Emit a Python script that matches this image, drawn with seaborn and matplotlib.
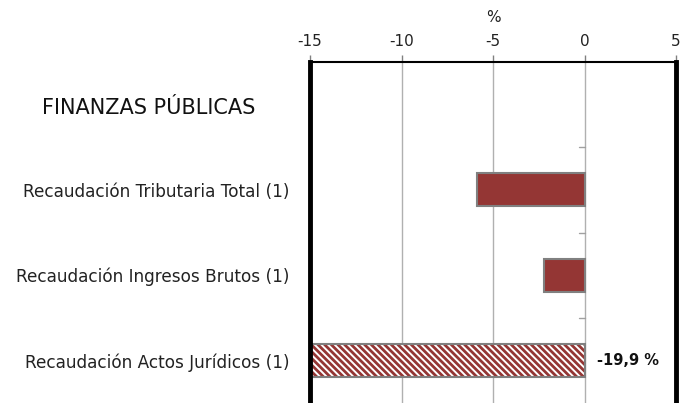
import matplotlib
matplotlib.use("Agg")
import matplotlib.pyplot as plt
import seaborn as sns
import pandas as pd
import numpy as np

categories = ["FINANZAS PÚBLICAS", "Recaudación Tributaria Total (1)",
              "Recaudación Ingresos Brutos (1)", "Recaudación Actos Jurídicos (1)"]
values = [np.nan, -5.9, -2.2, -19.9]
hatched = [False, False, False, True]
x_ticks = [-15, -10, -5, 0, 5]
value_label = "-19,9 %"

sns.set_theme(style="white")
plt.rcParams['font.family'] = ['DejaVu Sans']
plt.rcParams['hatch.linewidth'] = 2.0

red = "#943634"
edge = "#808080"

df = pd.DataFrame({"cat": categories, "val": values})

fig = plt.figure(figsize=(6.84, 4.03), dpi=100)
ax = fig.add_axes([310/684, 0.0, (676-310)/684, (403-62)/403])

sns.barplot(data=df, y="cat", x="val", orient="h", ax=ax, color=red,
            width=0.39, saturation=1, edgecolor=edge, linewidth=1.5)

# hatched bar: restyle the matching patch
for val, h in zip(values, hatched):
    if not h:
        continue
    for p in ax.patches:
        if abs(p.get_width() - val) < 1e-6:
            p.set_facecolor("white")
            p.set_edgecolor(red)
            p.set_linewidth(0)
            p.set_hatch("\\\\\\\\\\")
            ax.barh(p.get_y() + p.get_height()/2, p.get_width(), height=p.get_height(),
                    fill=False, edgecolor=edge, linewidth=1.5,
                    zorder=p.get_zorder() + 0.1)
            break

ax.set_xlim(-15, 5)
ax.set_ylim(len(categories) - 0.5, -0.5)
ax.set_xticks(x_ticks)
ax.set_xticklabels([str(t) for t in x_ticks], fontsize=11, color="#222222")
ax.xaxis.tick_top()
ax.xaxis.set_label_position("top")
ax.set_xlabel("%", fontsize=11, color="#222222", labelpad=9)
ax.tick_params(axis="x", top=True, length=5, width=1, color="#808080", pad=4)
ax.set_ylabel("")

# grid
ax.grid(axis="x", color="#b0b0b0", linewidth=1)
ax.set_axisbelow(True)

# spines
for s in ["left", "right"]:
    ax.spines[s].set_color("black")
    ax.spines[s].set_linewidth(3.5)
ax.spines["top"].set_color("black")
ax.spines["top"].set_linewidth(1.5)
ax.spines["bottom"].set_visible(False)

# y tick labels
ax.set_yticks(range(len(categories)))
ax.set_yticklabels([""] + categories[1:], fontsize=12.2, color="#222222")
ax.tick_params(axis="y", left=False, pad=9)
fig.text(42/684, 1 - 108/403, categories[0], fontsize=15, color="#111111",
         ha="left", va="center")

# small category-separator ticks at zero line
for b in np.arange(0.5, len(categories) - 0.5, 1.0):
    ax.plot([-0.3, 0], [b, b], color="#a0a0a0", linewidth=1)

# value label
ax.text(0.7, 3, value_label, fontsize=10.5, fontweight="bold", ha="left", va="center",
        color="#111111")

fig.savefig("out.png", dpi=100)
